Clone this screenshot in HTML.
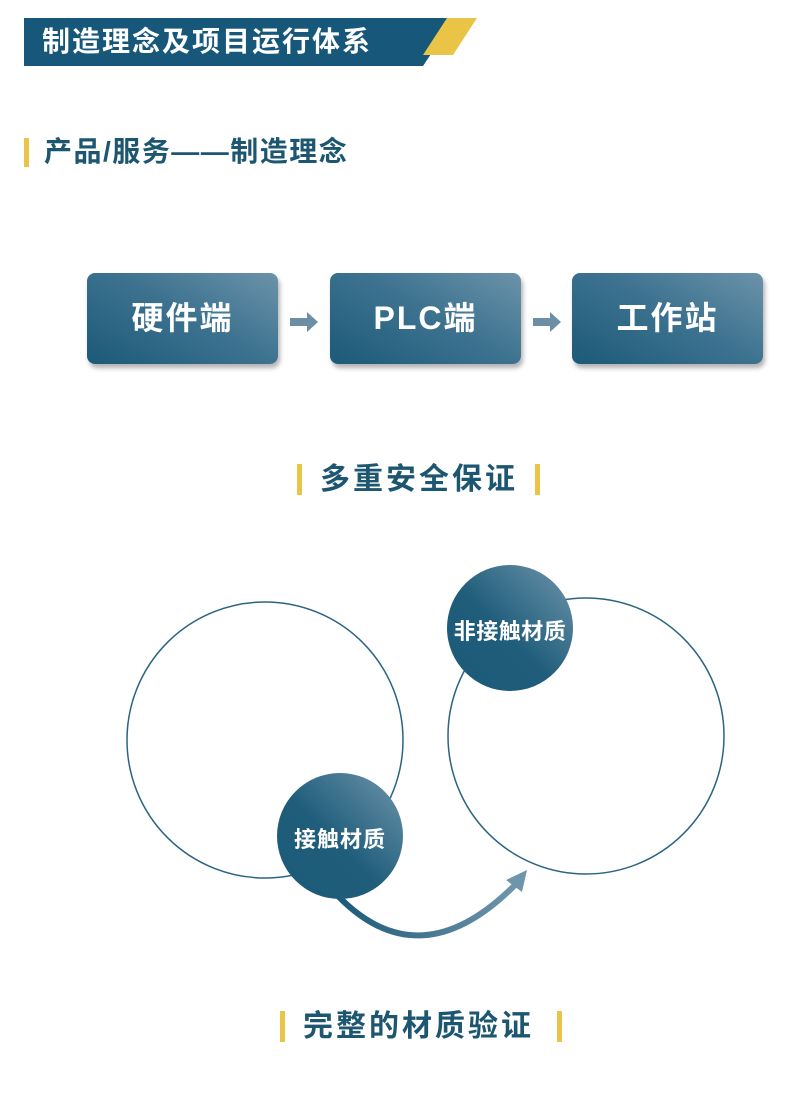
<!DOCTYPE html>
<html><head><meta charset="utf-8"><style>
body{margin:0;width:800px;height:1102px;background:#fff;position:relative;overflow:hidden;font-family:"Liberation Sans","Noto Sans CJK SC",sans-serif}
.a{position:absolute}
.box{position:absolute;top:273px;width:191px;height:91px;border-radius:8px;background:linear-gradient(30deg,#1b5a78 0%,#3e7390 55%,#6c93aa 100%);box-shadow:2px 4px 5px rgba(0,0,0,.3);color:#fff;font-size:32px;font-weight:bold;text-align:center;line-height:91px;letter-spacing:2px}
.arr{position:absolute;top:312px;width:30px;height:20px}
.h2{position:absolute;font-size:30px;font-weight:bold;color:#1d5670;left:320px;letter-spacing:3px;white-space:nowrap}
.bar{position:absolute;width:5px;background:#e9c446}
</style></head><body>
<svg class="a" style="left:0;top:0" width="800" height="80">
<polygon points="24,18 455,18 423,66 24,66" fill="#17587a"/>
<polygon points="447,18 477,18 453,55 423,55" fill="#e9c446"/>
</svg>
<div class="a" style="left:42px;top:22px;font-size:28px;font-weight:bold;color:#fff;line-height:40px;letter-spacing:2px;white-space:nowrap">制造理念及项目运行体系</div>
<div class="bar" style="left:24px;top:138px;height:29px"></div>
<div class="a" style="left:44px;top:134px;font-size:28px;font-weight:bold;color:#1d5670;line-height:36px;letter-spacing:1.5px;white-space:nowrap">产品/服务——制造理念</div>
<div class="box" style="left:87px">硬件端</div>
<div class="box" style="left:330px">PLC端</div>
<div class="box" style="left:572px">工作站</div>
<svg class="arr" style="left:290px" viewBox="0 0 30 20"><polygon points="0,6 17,6 17,0 28,10 17,20 17,14 0,14" fill="#6c8fa6"/></svg>
<svg class="arr" style="left:533px" viewBox="0 0 30 20"><polygon points="0,6 17,6 17,0 28,10 17,20 17,14 0,14" fill="#6c8fa6"/></svg>
<div class="bar" style="left:297px;top:464px;height:31px"></div>
<div class="bar" style="left:535px;top:464px;height:31px"></div>
<div class="h2" style="top:460px;line-height:40px">多重安全保证</div>
<svg class="a" style="left:0;top:540px" width="800" height="440">
<defs>
<linearGradient id="g" x1="0" y1="1" x2="1" y2="0"><stop offset="0" stop-color="#1b5a78"/><stop offset=".45" stop-color="#1f5d7b"/><stop offset="1" stop-color="#6f95ab"/></linearGradient>
<linearGradient id="ga" x1="0" y1="0" x2="1" y2="0"><stop offset="0" stop-color="#1b5a78"/><stop offset="1" stop-color="#6f95ab"/></linearGradient>
</defs>
<circle cx="265" cy="200" r="138" fill="none" stroke="#2a6482" stroke-width="1.5"/>
<circle cx="586" cy="196" r="138" fill="none" stroke="#2a6482" stroke-width="1.5"/>
<path d="M338,356 Q420,440 515,345" fill="none" stroke="url(#ga)" stroke-width="6"/>
<polygon points="527,330 522,352 506,340" fill="#6f95ab"/>
<circle cx="340" cy="296" r="63" fill="url(#g)"/>
<circle cx="510" cy="88" r="63" fill="url(#g)"/>
<text x="340" y="307" font-size="22" font-weight="bold" fill="#fff" text-anchor="middle" letter-spacing="1" font-family="Liberation Sans,Noto Sans CJK SC,sans-serif">接触材质</text>
<text x="510" y="99" font-size="22" font-weight="bold" fill="#fff" text-anchor="middle" letter-spacing="0.5" font-family="Liberation Sans,Noto Sans CJK SC,sans-serif">非接触材质</text>
</svg>
<div class="bar" style="left:280px;top:1011px;height:31px"></div>
<div class="bar" style="left:557px;top:1011px;height:31px"></div>
<div class="h2" style="top:1007px;line-height:40px;left:303px">完整的材质验证</div>
</body></html>
